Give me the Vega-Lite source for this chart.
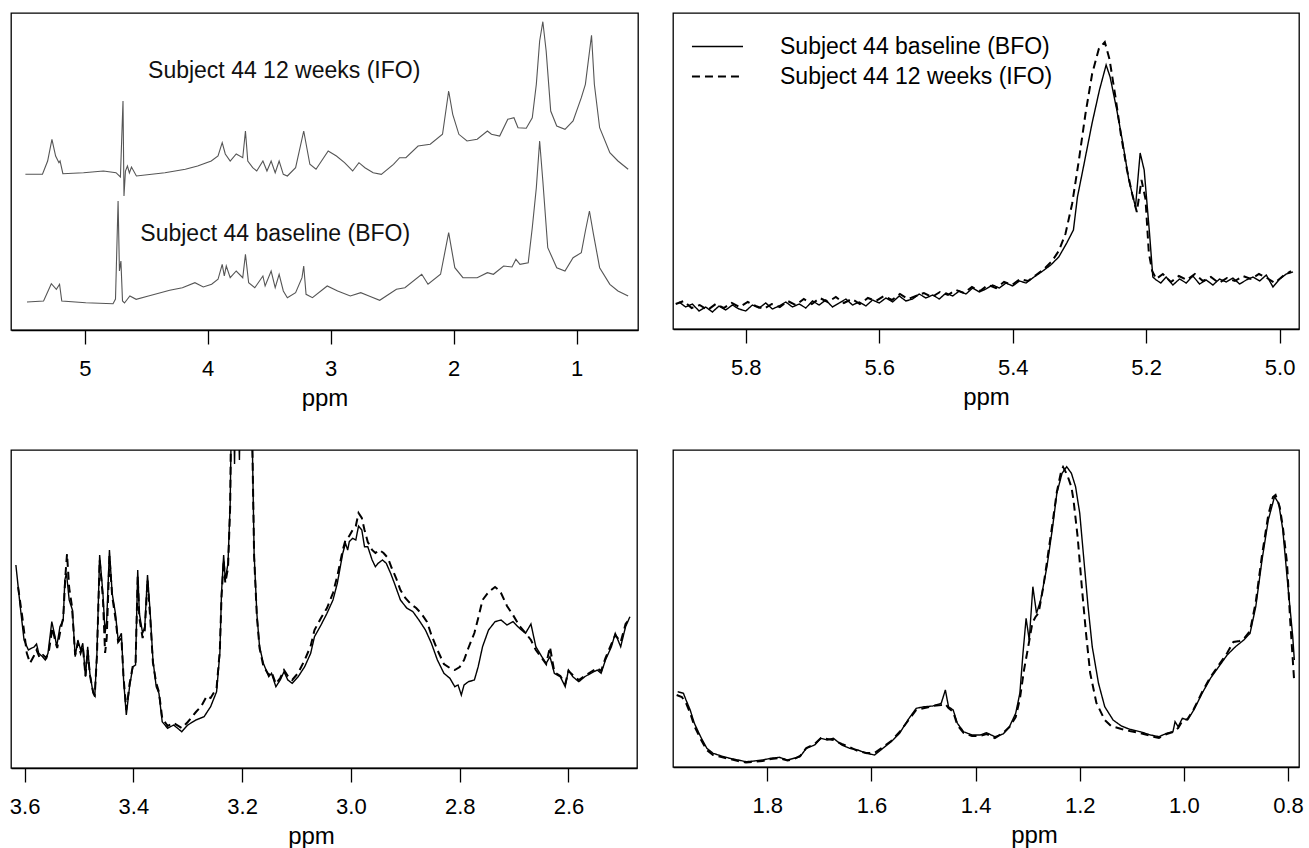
{
"$schema": "https://vega.github.io/schema/vega-lite/v6.json",
"padding": {"left": 8, "top": 12, "right": 4, "bottom": 4},
"bounds": "flush",
"columns": 2,
"spacing": {"row": 120, "column": 35},
"config": {
  "font": "Liberation Sans",
  "view": {"stroke": "black", "strokeWidth": 1.3},
  "axis": {"grid": false, "tickSize": 14, "labelPadding": 14, "labelFontSize": 22, "labelColor": "black", "tickColor": "black", "domainColor": "black", "domainWidth": 1.3, "tickWidth": 1.3, "titleFontSize": 24, "titleFontWeight": "normal", "titleColor": "black", "titlePadding": 7, "labelFlush": false, "labelOverlap": false, "labelFont": "Liberation Sans", "titleFont": "Liberation Sans"},
  "legend": {"labelFont": "Liberation Sans"}
},
"resolve": {"scale": {"x": "independent", "y": "independent", "strokeDash": "independent", "strokeWidth": "independent"}},
"datasets": {
"p1": [
{"x":5.483,"v":155.7,"s":"I"},{"x":5.344,"v":155.7,"s":"I"},{"x":5.302,"v":169,"s":"I"},{"x":5.267,"v":190.7,"s":"I"},{"x":5.237,"v":174,"s":"I"},{"x":5.210,"v":167.3,"s":"I"},{"x":5.201,"v":169,"s":"I"},{"x":5.178,"v":156.3,"s":"I"},{"x":5.010,"v":157.3,"s":"I"},{"x":4.848,"v":159,"s":"I"},{"x":4.746,"v":157.3,"s":"I"},{"x":4.710,"v":153,"s":"I"},{"x":4.689,"v":229,"s":"I"},{"x":4.681,"v":134,"s":"I"},{"x":4.669,"v":159,"s":"I"},{"x":4.653,"v":164,"s":"I"},{"x":4.637,"v":157,"s":"I"},{"x":4.620,"v":163,"s":"I"},{"x":4.580,"v":154,"s":"I"},{"x":4.348,"v":157.3,"s":"I"},{"x":4.182,"v":160.7,"s":"I"},{"x":4.082,"v":164,"s":"I"},{"x":3.971,"v":169,"s":"I"},{"x":3.916,"v":174,"s":"I"},{"x":3.882,"v":187.3,"s":"I"},{"x":3.857,"v":176,"s":"I"},{"x":3.817,"v":169,"s":"I"},{"x":3.768,"v":176,"s":"I"},{"x":3.715,"v":172.3,"s":"I"},{"x":3.693,"v":199,"s":"I"},{"x":3.674,"v":169,"s":"I"},{"x":3.634,"v":162.3,"s":"I"},{"x":3.601,"v":159,"s":"I"},{"x":3.551,"v":169,"s":"I"},{"x":3.518,"v":159,"s":"I"},{"x":3.484,"v":169,"s":"I"},{"x":3.451,"v":157.3,"s":"I"},{"x":3.419,"v":169,"s":"I"},{"x":3.385,"v":155.7,"s":"I"},{"x":3.352,"v":154,"s":"I"},{"x":3.285,"v":162.3,"s":"I"},{"x":3.219,"v":199,"s":"I"},{"x":3.169,"v":165.7,"s":"I"},{"x":3.119,"v":160.7,"s":"I"},{"x":3.020,"v":179,"s":"I"},{"x":2.953,"v":174,"s":"I"},{"x":2.887,"v":167.3,"s":"I"},{"x":2.821,"v":159,"s":"I"},{"x":2.770,"v":167.3,"s":"I"},{"x":2.721,"v":162.3,"s":"I"},{"x":2.654,"v":157.3,"s":"I"},{"x":2.588,"v":155.7,"s":"I"},{"x":2.489,"v":165.7,"s":"I"},{"x":2.439,"v":172.3,"s":"I"},{"x":2.388,"v":172.3,"s":"I"},{"x":2.289,"v":184,"s":"I"},{"x":2.190,"v":185.7,"s":"I"},{"x":2.090,"v":195.7,"s":"I"},{"x":2.040,"v":239,"s":"I"},{"x":2.007,"v":215.7,"s":"I"},{"x":1.957,"v":195.7,"s":"I"},{"x":1.891,"v":189,"s":"I"},{"x":1.808,"v":190.7,"s":"I"},{"x":1.725,"v":199,"s":"I"},{"x":1.692,"v":195.7,"s":"I"},{"x":1.625,"v":194,"s":"I"},{"x":1.559,"v":210.7,"s":"I"},{"x":1.509,"v":212.3,"s":"I"},{"x":1.476,"v":202.3,"s":"I"},{"x":1.409,"v":201.7,"s":"I"},{"x":1.360,"v":212.3,"s":"I"},{"x":1.327,"v":245.7,"s":"I"},{"x":1.300,"v":289,"s":"I"},{"x":1.274,"v":308.3,"s":"I"},{"x":1.247,"v":279,"s":"I"},{"x":1.210,"v":219,"s":"I"},{"x":1.161,"v":204,"s":"I"},{"x":1.094,"v":200.7,"s":"I"},{"x":1.028,"v":209,"s":"I"},{"x":0.961,"v":232.3,"s":"I"},{"x":0.928,"v":245.7,"s":"I"},{"x":0.878,"v":294.7,"s":"I"},{"x":0.855,"v":245.7,"s":"I"},{"x":0.812,"v":202.3,"s":"I"},{"x":0.729,"v":177.3,"s":"I"},{"x":0.663,"v":169,"s":"I"},{"x":0.580,"v":160.7,"s":"I"},
{"x":5.470,"v":28,"s":"B"},{"x":5.335,"v":29,"s":"B"},{"x":5.272,"v":46.3,"s":"B"},{"x":5.231,"v":40.7,"s":"B"},{"x":5.205,"v":45.7,"s":"B"},{"x":5.187,"v":29,"s":"B"},{"x":4.992,"v":27.3,"s":"B"},{"x":4.770,"v":26.3,"s":"B"},{"x":4.750,"v":31,"s":"B"},{"x":4.729,"v":129,"s":"B"},{"x":4.718,"v":59,"s":"B"},{"x":4.706,"v":69,"s":"B"},{"x":4.693,"v":29,"s":"B"},{"x":4.677,"v":27,"s":"B"},{"x":4.633,"v":34,"s":"B"},{"x":4.582,"v":30.7,"s":"B"},{"x":4.482,"v":34,"s":"B"},{"x":4.309,"v":39.7,"s":"B"},{"x":4.206,"v":42.3,"s":"B"},{"x":4.104,"v":47.3,"s":"B"},{"x":4.036,"v":43,"s":"B"},{"x":3.968,"v":45.7,"s":"B"},{"x":3.916,"v":50.7,"s":"B"},{"x":3.882,"v":65.7,"s":"B"},{"x":3.865,"v":54,"s":"B"},{"x":3.849,"v":64,"s":"B"},{"x":3.817,"v":52.3,"s":"B"},{"x":3.768,"v":59,"s":"B"},{"x":3.715,"v":52.3,"s":"B"},{"x":3.693,"v":75.7,"s":"B"},{"x":3.667,"v":47.3,"s":"B"},{"x":3.617,"v":42.3,"s":"B"},{"x":3.551,"v":54,"s":"B"},{"x":3.533,"v":44,"s":"B"},{"x":3.484,"v":59,"s":"B"},{"x":3.451,"v":42.3,"s":"B"},{"x":3.419,"v":55.7,"s":"B"},{"x":3.385,"v":39,"s":"B"},{"x":3.352,"v":32.3,"s":"B"},{"x":3.285,"v":37.3,"s":"B"},{"x":3.233,"v":52.3,"s":"B"},{"x":3.219,"v":64,"s":"B"},{"x":3.200,"v":35.7,"s":"B"},{"x":3.148,"v":32.3,"s":"B"},{"x":3.028,"v":44,"s":"B"},{"x":2.943,"v":39,"s":"B"},{"x":2.840,"v":34,"s":"B"},{"x":2.755,"v":37.3,"s":"B"},{"x":2.688,"v":34,"s":"B"},{"x":2.601,"v":29.7,"s":"B"},{"x":2.465,"v":40.7,"s":"B"},{"x":2.396,"v":42.3,"s":"B"},{"x":2.259,"v":55.7,"s":"B"},{"x":2.208,"v":45.7,"s":"B"},{"x":2.106,"v":55.7,"s":"B"},{"x":2.040,"v":97.3,"s":"B"},{"x":1.990,"v":62.3,"s":"B"},{"x":1.924,"v":52.3,"s":"B"},{"x":1.808,"v":52.3,"s":"B"},{"x":1.725,"v":57.3,"s":"B"},{"x":1.676,"v":55.7,"s":"B"},{"x":1.593,"v":64,"s":"B"},{"x":1.525,"v":63,"s":"B"},{"x":1.493,"v":70.7,"s":"B"},{"x":1.460,"v":65.7,"s":"B"},{"x":1.393,"v":67.3,"s":"B"},{"x":1.360,"v":102.3,"s":"B"},{"x":1.327,"v":142.3,"s":"B"},{"x":1.300,"v":189,"s":"B"},{"x":1.274,"v":149,"s":"B"},{"x":1.234,"v":82.3,"s":"B"},{"x":1.161,"v":62.3,"s":"B"},{"x":1.094,"v":59,"s":"B"},{"x":1.028,"v":72.3,"s":"B"},{"x":0.961,"v":77.3,"s":"B"},{"x":0.928,"v":99,"s":"B"},{"x":0.895,"v":119,"s":"B"},{"x":0.862,"v":95.7,"s":"B"},{"x":0.812,"v":62.3,"s":"B"},{"x":0.729,"v":45.7,"s":"B"},{"x":0.663,"v":39,"s":"B"},{"x":0.580,"v":34,"s":"B"}
],
"t1": [
{"x":3.378,"v":259,"t":"Subject 44 12 weeks (IFO)"},
{"x":3.451,"v":96,"t":"Subject 44 baseline (BFO)"}
],
"p2": [
{"x":5.900,"v":27,"s":"B"},{"x":5.890,"v":22,"s":"B"},{"x":5.880,"v":25,"s":"B"},{"x":5.870,"v":18,"s":"B"},{"x":5.860,"v":22,"s":"B"},{"x":5.850,"v":17,"s":"B"},{"x":5.840,"v":23,"s":"B"},{"x":5.830,"v":19,"s":"B"},{"x":5.820,"v":24,"s":"B"},{"x":5.810,"v":20,"s":"B"},{"x":5.800,"v":18,"s":"B"},{"x":5.790,"v":24,"s":"B"},{"x":5.780,"v":21,"s":"B"},{"x":5.770,"v":26,"s":"B"},{"x":5.760,"v":20,"s":"B"},{"x":5.750,"v":23,"s":"B"},{"x":5.740,"v":27,"s":"B"},{"x":5.730,"v":22,"s":"B"},{"x":5.720,"v":25,"s":"B"},{"x":5.710,"v":21,"s":"B"},{"x":5.700,"v":28,"s":"B"},{"x":5.690,"v":24,"s":"B"},{"x":5.680,"v":29,"s":"B"},{"x":5.670,"v":22,"s":"B"},{"x":5.660,"v":26,"s":"B"},{"x":5.650,"v":30,"s":"B"},{"x":5.640,"v":24,"s":"B"},{"x":5.630,"v":27,"s":"B"},{"x":5.620,"v":23,"s":"B"},{"x":5.610,"v":29,"s":"B"},{"x":5.600,"v":26,"s":"B"},{"x":5.590,"v":31,"s":"B"},{"x":5.580,"v":27,"s":"B"},{"x":5.570,"v":33,"s":"B"},{"x":5.560,"v":28,"s":"B"},{"x":5.550,"v":30,"s":"B"},{"x":5.540,"v":35,"s":"B"},{"x":5.530,"v":31,"s":"B"},{"x":5.520,"v":34,"s":"B"},{"x":5.510,"v":30,"s":"B"},{"x":5.500,"v":36,"s":"B"},{"x":5.490,"v":33,"s":"B"},{"x":5.480,"v":38,"s":"B"},{"x":5.470,"v":35,"s":"B"},{"x":5.460,"v":41,"s":"B"},{"x":5.450,"v":37,"s":"B"},{"x":5.440,"v":40,"s":"B"},{"x":5.430,"v":44,"s":"B"},{"x":5.420,"v":41,"s":"B"},{"x":5.410,"v":46,"s":"B"},{"x":5.400,"v":43,"s":"B"},{"x":5.390,"v":48,"s":"B"},{"x":5.380,"v":46,"s":"B"},{"x":5.368,"v":52,"s":"B"},{"x":5.355,"v":58,"s":"B"},{"x":5.343,"v":64,"s":"B"},{"x":5.331,"v":72,"s":"B"},{"x":5.319,"v":86,"s":"B"},{"x":5.309,"v":99,"s":"B"},{"x":5.303,"v":132,"s":"B"},{"x":5.294,"v":162,"s":"B"},{"x":5.281,"v":206,"s":"B"},{"x":5.270,"v":239,"s":"B"},{"x":5.260,"v":264,"s":"B"},{"x":5.254,"v":252,"s":"B"},{"x":5.244,"v":219,"s":"B"},{"x":5.235,"v":186,"s":"B"},{"x":5.226,"v":149,"s":"B"},{"x":5.216,"v":122,"s":"B"},{"x":5.209,"v":176,"s":"B"},{"x":5.203,"v":159,"s":"B"},{"x":5.195,"v":96,"s":"B"},{"x":5.190,"v":52,"s":"B"},{"x":5.185,"v":49,"s":"B"},{"x":5.178,"v":46,"s":"B"},{"x":5.170,"v":52,"s":"B"},{"x":5.160,"v":44,"s":"B"},{"x":5.150,"v":50,"s":"B"},{"x":5.140,"v":46,"s":"B"},{"x":5.130,"v":53,"s":"B"},{"x":5.120,"v":45,"s":"B"},{"x":5.110,"v":49,"s":"B"},{"x":5.100,"v":44,"s":"B"},{"x":5.090,"v":50,"s":"B"},{"x":5.080,"v":47,"s":"B"},{"x":5.070,"v":51,"s":"B"},{"x":5.060,"v":45,"s":"B"},{"x":5.050,"v":49,"s":"B"},{"x":5.040,"v":52,"s":"B"},{"x":5.030,"v":48,"s":"B"},{"x":5.020,"v":54,"s":"B"},{"x":5.010,"v":42,"s":"B"},{"x":5.000,"v":50,"s":"B"},{"x":4.990,"v":55,"s":"B"},{"x":4.980,"v":57,"s":"B"},
{"x":5.905,"v":25,"s":"I"},{"x":5.893,"v":28,"s":"I"},{"x":5.881,"v":21,"s":"I"},{"x":5.869,"v":24,"s":"I"},{"x":5.857,"v":19,"s":"I"},{"x":5.845,"v":25,"s":"I"},{"x":5.833,"v":21,"s":"I"},{"x":5.821,"v":26,"s":"I"},{"x":5.809,"v":22,"s":"I"},{"x":5.797,"v":27,"s":"I"},{"x":5.785,"v":23,"s":"I"},{"x":5.773,"v":20,"s":"I"},{"x":5.761,"v":25,"s":"I"},{"x":5.749,"v":22,"s":"I"},{"x":5.737,"v":28,"s":"I"},{"x":5.725,"v":24,"s":"I"},{"x":5.713,"v":30,"s":"I"},{"x":5.701,"v":25,"s":"I"},{"x":5.689,"v":31,"s":"I"},{"x":5.677,"v":27,"s":"I"},{"x":5.665,"v":32,"s":"I"},{"x":5.653,"v":26,"s":"I"},{"x":5.641,"v":30,"s":"I"},{"x":5.629,"v":25,"s":"I"},{"x":5.617,"v":31,"s":"I"},{"x":5.605,"v":28,"s":"I"},{"x":5.593,"v":33,"s":"I"},{"x":5.581,"v":29,"s":"I"},{"x":5.569,"v":35,"s":"I"},{"x":5.557,"v":30,"s":"I"},{"x":5.545,"v":33,"s":"I"},{"x":5.533,"v":36,"s":"I"},{"x":5.521,"v":32,"s":"I"},{"x":5.509,"v":37,"s":"I"},{"x":5.497,"v":34,"s":"I"},{"x":5.485,"v":39,"s":"I"},{"x":5.473,"v":36,"s":"I"},{"x":5.461,"v":42,"s":"I"},{"x":5.449,"v":38,"s":"I"},{"x":5.437,"v":44,"s":"I"},{"x":5.425,"v":41,"s":"I"},{"x":5.413,"v":47,"s":"I"},{"x":5.401,"v":44,"s":"I"},{"x":5.389,"v":50,"s":"I"},{"x":5.377,"v":48,"s":"I"},{"x":5.365,"v":54,"s":"I"},{"x":5.353,"v":60,"s":"I"},{"x":5.341,"v":68,"s":"I"},{"x":5.331,"v":78,"s":"I"},{"x":5.321,"v":95,"s":"I"},{"x":5.311,"v":125,"s":"I"},{"x":5.301,"v":168,"s":"I"},{"x":5.291,"v":215,"s":"I"},{"x":5.281,"v":255,"s":"I"},{"x":5.271,"v":280,"s":"I"},{"x":5.262,"v":287,"s":"I"},{"x":5.255,"v":270,"s":"I"},{"x":5.246,"v":232,"s":"I"},{"x":5.238,"v":195,"s":"I"},{"x":5.229,"v":160,"s":"I"},{"x":5.221,"v":135,"s":"I"},{"x":5.214,"v":117,"s":"I"},{"x":5.207,"v":149,"s":"I"},{"x":5.201,"v":130,"s":"I"},{"x":5.196,"v":76,"s":"I"},{"x":5.191,"v":58,"s":"I"},{"x":5.185,"v":50,"s":"I"},{"x":5.175,"v":55,"s":"I"},{"x":5.163,"v":47,"s":"I"},{"x":5.151,"v":53,"s":"I"},{"x":5.139,"v":49,"s":"I"},{"x":5.127,"v":55,"s":"I"},{"x":5.115,"v":48,"s":"I"},{"x":5.103,"v":52,"s":"I"},{"x":5.091,"v":46,"s":"I"},{"x":5.079,"v":51,"s":"I"},{"x":5.067,"v":48,"s":"I"},{"x":5.055,"v":53,"s":"I"},{"x":5.043,"v":50,"s":"I"},{"x":5.031,"v":55,"s":"I"},{"x":5.019,"v":51,"s":"I"},{"x":5.007,"v":46,"s":"I"},{"x":4.995,"v":53,"s":"I"},{"x":4.983,"v":58,"s":"I"}
],
"p3": [
{"x":3.616,"v":203,"s":"B"},{"x":3.608,"v":161.3,"s":"B"},{"x":3.601,"v":128,"s":"B"},{"x":3.593,"v":118,"s":"B"},{"x":3.582,"v":121.3,"s":"B"},{"x":3.578,"v":124,"s":"B"},{"x":3.574,"v":114.7,"s":"B"},{"x":3.567,"v":111.3,"s":"B"},{"x":3.562,"v":108,"s":"B"},{"x":3.557,"v":114.7,"s":"B"},{"x":3.550,"v":146.3,"s":"B"},{"x":3.544,"v":131.3,"s":"B"},{"x":3.541,"v":121.3,"s":"B"},{"x":3.535,"v":141.3,"s":"B"},{"x":3.529,"v":148,"s":"B"},{"x":3.526,"v":188,"s":"B"},{"x":3.523,"v":194.7,"s":"B"},{"x":3.518,"v":168,"s":"B"},{"x":3.512,"v":158,"s":"B"},{"x":3.507,"v":111.3,"s":"B"},{"x":3.502,"v":128,"s":"B"},{"x":3.497,"v":118,"s":"B"},{"x":3.493,"v":124.7,"s":"B"},{"x":3.488,"v":91.3,"s":"B"},{"x":3.484,"v":121.3,"s":"B"},{"x":3.480,"v":94.7,"s":"B"},{"x":3.474,"v":74.7,"s":"B"},{"x":3.471,"v":71.3,"s":"B"},{"x":3.467,"v":114.7,"s":"B"},{"x":3.462,"v":213,"s":"B"},{"x":3.456,"v":174.7,"s":"B"},{"x":3.452,"v":134.7,"s":"B"},{"x":3.449,"v":148,"s":"B"},{"x":3.444,"v":218,"s":"B"},{"x":3.439,"v":174.7,"s":"B"},{"x":3.433,"v":154.7,"s":"B"},{"x":3.428,"v":128,"s":"B"},{"x":3.422,"v":134.7,"s":"B"},{"x":3.418,"v":88,"s":"B"},{"x":3.413,"v":53,"s":"B"},{"x":3.407,"v":81.3,"s":"B"},{"x":3.401,"v":101.3,"s":"B"},{"x":3.396,"v":103,"s":"B"},{"x":3.392,"v":198,"s":"B"},{"x":3.389,"v":154.7,"s":"B"},{"x":3.383,"v":134.7,"s":"B"},{"x":3.379,"v":141.3,"s":"B"},{"x":3.374,"v":193,"s":"B"},{"x":3.369,"v":154.7,"s":"B"},{"x":3.364,"v":108,"s":"B"},{"x":3.358,"v":81.3,"s":"B"},{"x":3.353,"v":74.7,"s":"B"},{"x":3.347,"v":46.3,"s":"B"},{"x":3.337,"v":39.7,"s":"B"},{"x":3.326,"v":43,"s":"B"},{"x":3.311,"v":36.3,"s":"B"},{"x":3.300,"v":43,"s":"B"},{"x":3.285,"v":48,"s":"B"},{"x":3.270,"v":51.3,"s":"B"},{"x":3.258,"v":61.3,"s":"B"},{"x":3.247,"v":76.3,"s":"B"},{"x":3.241,"v":114.7,"s":"B"},{"x":3.238,"v":174.7,"s":"B"},{"x":3.234,"v":213,"s":"B"},{"x":3.231,"v":188,"s":"B"},{"x":3.226,"v":204.7,"s":"B"},{"x":3.222,"v":264.7,"s":"B"},{"x":3.218,"v":420,"s":"B"},{"x":3.214,"v":304,"s":"B"},{"x":3.210,"v":420,"s":"B"},{"x":3.205,"v":308,"s":"B"},{"x":3.201,"v":420,"s":"B"},{"x":3.185,"v":420,"s":"B"},{"x":3.181,"v":314.7,"s":"B"},{"x":3.178,"v":214.7,"s":"B"},{"x":3.173,"v":154.7,"s":"B"},{"x":3.168,"v":121.3,"s":"B"},{"x":3.161,"v":104.7,"s":"B"},{"x":3.151,"v":91.3,"s":"B"},{"x":3.146,"v":94.7,"s":"B"},{"x":3.138,"v":81.3,"s":"B"},{"x":3.130,"v":88,"s":"B"},{"x":3.123,"v":96.3,"s":"B"},{"x":3.116,"v":88,"s":"B"},{"x":3.108,"v":84.7,"s":"B"},{"x":3.097,"v":91.3,"s":"B"},{"x":3.085,"v":101.3,"s":"B"},{"x":3.074,"v":114.7,"s":"B"},{"x":3.067,"v":131.3,"s":"B"},{"x":3.055,"v":143,"s":"B"},{"x":3.044,"v":154.7,"s":"B"},{"x":3.033,"v":168,"s":"B"},{"x":3.025,"v":184.7,"s":"B"},{"x":3.015,"v":214.7,"s":"B"},{"x":3.010,"v":224.7,"s":"B"},{"x":3.006,"v":218,"s":"B"},{"x":3.003,"v":226.3,"s":"B"},{"x":2.997,"v":229.7,"s":"B"},{"x":2.991,"v":228,"s":"B"},{"x":2.986,"v":242,"s":"B"},{"x":2.980,"v":238,"s":"B"},{"x":2.975,"v":221.3,"s":"B"},{"x":2.969,"v":221.3,"s":"B"},{"x":2.961,"v":208,"s":"B"},{"x":2.955,"v":201.3,"s":"B"},{"x":2.950,"v":204.7,"s":"B"},{"x":2.942,"v":208,"s":"B"},{"x":2.935,"v":204.7,"s":"B"},{"x":2.927,"v":194.7,"s":"B"},{"x":2.920,"v":184.7,"s":"B"},{"x":2.909,"v":168,"s":"B"},{"x":2.897,"v":159.7,"s":"B"},{"x":2.886,"v":156.3,"s":"B"},{"x":2.875,"v":148,"s":"B"},{"x":2.863,"v":138,"s":"B"},{"x":2.852,"v":124.7,"s":"B"},{"x":2.841,"v":108,"s":"B"},{"x":2.829,"v":94.7,"s":"B"},{"x":2.818,"v":89.7,"s":"B"},{"x":2.809,"v":81.3,"s":"B"},{"x":2.803,"v":83,"s":"B"},{"x":2.797,"v":73,"s":"B"},{"x":2.792,"v":83,"s":"B"},{"x":2.784,"v":86.3,"s":"B"},{"x":2.773,"v":88,"s":"B"},{"x":2.766,"v":101.3,"s":"B"},{"x":2.758,"v":121.3,"s":"B"},{"x":2.747,"v":138,"s":"B"},{"x":2.735,"v":146.3,"s":"B"},{"x":2.724,"v":148,"s":"B"},{"x":2.713,"v":143,"s":"B"},{"x":2.702,"v":146.3,"s":"B"},{"x":2.690,"v":139.7,"s":"B"},{"x":2.679,"v":134.7,"s":"B"},{"x":2.669,"v":144,"s":"B"},{"x":2.660,"v":121.3,"s":"B"},{"x":2.649,"v":111.3,"s":"B"},{"x":2.641,"v":104.7,"s":"B"},{"x":2.634,"v":111.3,"s":"B"},{"x":2.626,"v":94.7,"s":"B"},{"x":2.615,"v":91.3,"s":"B"},{"x":2.606,"v":81.3,"s":"B"},{"x":2.600,"v":98,"s":"B"},{"x":2.592,"v":91.3,"s":"B"},{"x":2.581,"v":86.3,"s":"B"},{"x":2.570,"v":91.3,"s":"B"},{"x":2.559,"v":94.7,"s":"B"},{"x":2.547,"v":98,"s":"B"},{"x":2.540,"v":94.7,"s":"B"},{"x":2.532,"v":108,"s":"B"},{"x":2.521,"v":121.3,"s":"B"},{"x":2.514,"v":134.7,"s":"B"},{"x":2.504,"v":121.3,"s":"B"},{"x":2.495,"v":141.3,"s":"B"},{"x":2.487,"v":151.3,"s":"B"},
{"x":3.612,"v":181,"s":"I"},{"x":3.604,"v":150,"s":"I"},{"x":3.596,"v":115,"s":"I"},{"x":3.590,"v":105,"s":"I"},{"x":3.583,"v":112,"s":"I"},{"x":3.578,"v":118,"s":"I"},{"x":3.572,"v":110,"s":"I"},{"x":3.566,"v":113,"s":"I"},{"x":3.560,"v":110,"s":"I"},{"x":3.555,"v":118,"s":"I"},{"x":3.549,"v":140,"s":"I"},{"x":3.544,"v":128,"s":"I"},{"x":3.540,"v":120,"s":"I"},{"x":3.534,"v":138,"s":"I"},{"x":3.529,"v":150,"s":"I"},{"x":3.525,"v":192,"s":"I"},{"x":3.522,"v":214,"s":"I"},{"x":3.518,"v":180,"s":"I"},{"x":3.513,"v":162,"s":"I"},{"x":3.507,"v":113,"s":"I"},{"x":3.502,"v":125,"s":"I"},{"x":3.497,"v":115,"s":"I"},{"x":3.493,"v":122,"s":"I"},{"x":3.488,"v":92,"s":"I"},{"x":3.484,"v":118,"s":"I"},{"x":3.480,"v":93,"s":"I"},{"x":3.474,"v":76,"s":"I"},{"x":3.471,"v":73,"s":"I"},{"x":3.467,"v":112,"s":"I"},{"x":3.462,"v":208,"s":"I"},{"x":3.456,"v":170,"s":"I"},{"x":3.452,"v":115,"s":"I"},{"x":3.449,"v":130,"s":"I"},{"x":3.444,"v":212,"s":"I"},{"x":3.439,"v":172,"s":"I"},{"x":3.433,"v":150,"s":"I"},{"x":3.428,"v":126,"s":"I"},{"x":3.422,"v":130,"s":"I"},{"x":3.418,"v":90,"s":"I"},{"x":3.413,"v":58,"s":"I"},{"x":3.407,"v":84,"s":"I"},{"x":3.401,"v":102,"s":"I"},{"x":3.396,"v":104,"s":"I"},{"x":3.392,"v":192,"s":"I"},{"x":3.389,"v":150,"s":"I"},{"x":3.383,"v":130,"s":"I"},{"x":3.379,"v":138,"s":"I"},{"x":3.374,"v":188,"s":"I"},{"x":3.369,"v":150,"s":"I"},{"x":3.364,"v":105,"s":"I"},{"x":3.358,"v":85,"s":"I"},{"x":3.353,"v":76,"s":"I"},{"x":3.347,"v":50,"s":"I"},{"x":3.337,"v":42,"s":"I"},{"x":3.326,"v":45,"s":"I"},{"x":3.311,"v":40,"s":"I"},{"x":3.300,"v":46,"s":"I"},{"x":3.285,"v":56,"s":"I"},{"x":3.275,"v":62,"s":"I"},{"x":3.265,"v":72,"s":"I"},{"x":3.258,"v":70,"s":"I"},{"x":3.247,"v":80,"s":"I"},{"x":3.241,"v":118,"s":"I"},{"x":3.238,"v":170,"s":"I"},{"x":3.234,"v":208,"s":"I"},{"x":3.231,"v":185,"s":"I"},{"x":3.226,"v":200,"s":"I"},{"x":3.222,"v":262,"s":"I"},{"x":3.219,"v":420,"s":"I"},{"x":3.185,"v":420,"s":"I"},{"x":3.181,"v":314,"s":"I"},{"x":3.178,"v":212,"s":"I"},{"x":3.173,"v":152,"s":"I"},{"x":3.168,"v":120,"s":"I"},{"x":3.161,"v":102,"s":"I"},{"x":3.151,"v":93,"s":"I"},{"x":3.146,"v":96,"s":"I"},{"x":3.138,"v":84,"s":"I"},{"x":3.130,"v":90,"s":"I"},{"x":3.123,"v":98,"s":"I"},{"x":3.116,"v":92,"s":"I"},{"x":3.108,"v":88,"s":"I"},{"x":3.097,"v":95,"s":"I"},{"x":3.085,"v":108,"s":"I"},{"x":3.074,"v":122,"s":"I"},{"x":3.067,"v":138,"s":"I"},{"x":3.055,"v":150,"s":"I"},{"x":3.044,"v":160,"s":"I"},{"x":3.033,"v":175,"s":"I"},{"x":3.025,"v":192,"s":"I"},{"x":3.015,"v":218,"s":"I"},{"x":3.010,"v":228,"s":"I"},{"x":3.003,"v":232,"s":"I"},{"x":2.997,"v":238,"s":"I"},{"x":2.991,"v":242,"s":"I"},{"x":2.986,"v":255,"s":"I"},{"x":2.980,"v":250,"s":"I"},{"x":2.975,"v":238,"s":"I"},{"x":2.969,"v":226,"s":"I"},{"x":2.961,"v":218,"s":"I"},{"x":2.955,"v":215,"s":"I"},{"x":2.948,"v":218,"s":"I"},{"x":2.940,"v":215,"s":"I"},{"x":2.932,"v":210,"s":"I"},{"x":2.925,"v":200,"s":"I"},{"x":2.917,"v":190,"s":"I"},{"x":2.909,"v":178,"s":"I"},{"x":2.900,"v":170,"s":"I"},{"x":2.890,"v":164,"s":"I"},{"x":2.880,"v":160,"s":"I"},{"x":2.870,"v":154,"s":"I"},{"x":2.860,"v":146,"s":"I"},{"x":2.852,"v":133,"s":"I"},{"x":2.841,"v":118,"s":"I"},{"x":2.829,"v":104,"s":"I"},{"x":2.818,"v":100,"s":"I"},{"x":2.809,"v":98,"s":"I"},{"x":2.800,"v":101,"s":"I"},{"x":2.792,"v":108,"s":"I"},{"x":2.784,"v":120,"s":"I"},{"x":2.773,"v":135,"s":"I"},{"x":2.765,"v":152,"s":"I"},{"x":2.758,"v":168,"s":"I"},{"x":2.747,"v":176,"s":"I"},{"x":2.735,"v":181,"s":"I"},{"x":2.728,"v":178,"s":"I"},{"x":2.724,"v":175,"s":"I"},{"x":2.713,"v":162,"s":"I"},{"x":2.702,"v":153,"s":"I"},{"x":2.690,"v":142,"s":"I"},{"x":2.679,"v":135,"s":"I"},{"x":2.669,"v":128,"s":"I"},{"x":2.660,"v":118,"s":"I"},{"x":2.649,"v":110,"s":"I"},{"x":2.641,"v":104,"s":"I"},{"x":2.634,"v":121,"s":"I"},{"x":2.626,"v":96,"s":"I"},{"x":2.615,"v":92,"s":"I"},{"x":2.606,"v":84,"s":"I"},{"x":2.600,"v":97,"s":"I"},{"x":2.592,"v":93,"s":"I"},{"x":2.581,"v":88,"s":"I"},{"x":2.570,"v":92,"s":"I"},{"x":2.559,"v":96,"s":"I"},{"x":2.547,"v":100,"s":"I"},{"x":2.540,"v":97,"s":"I"},{"x":2.532,"v":110,"s":"I"},{"x":2.521,"v":124,"s":"I"},{"x":2.514,"v":133,"s":"I"},{"x":2.504,"v":126,"s":"I"},{"x":2.495,"v":144,"s":"I"},{"x":2.487,"v":150,"s":"I"}
],
"p4": [
{"x":1.972,"v":75.3,"s":"B"},{"x":1.961,"v":73.7,"s":"B"},{"x":1.956,"v":67,"s":"B"},{"x":1.948,"v":57,"s":"B"},{"x":1.940,"v":43.7,"s":"B"},{"x":1.928,"v":30.3,"s":"B"},{"x":1.916,"v":18.7,"s":"B"},{"x":1.904,"v":13.7,"s":"B"},{"x":1.888,"v":11,"s":"B"},{"x":1.872,"v":8.7,"s":"B"},{"x":1.856,"v":7,"s":"B"},{"x":1.841,"v":5.3,"s":"B"},{"x":1.825,"v":6,"s":"B"},{"x":1.809,"v":7,"s":"B"},{"x":1.793,"v":8.7,"s":"B"},{"x":1.777,"v":9.7,"s":"B"},{"x":1.761,"v":7,"s":"B"},{"x":1.749,"v":8.7,"s":"B"},{"x":1.737,"v":10.3,"s":"B"},{"x":1.725,"v":18.7,"s":"B"},{"x":1.709,"v":22,"s":"B"},{"x":1.697,"v":28.7,"s":"B"},{"x":1.685,"v":27,"s":"B"},{"x":1.673,"v":28.7,"s":"B"},{"x":1.657,"v":22,"s":"B"},{"x":1.642,"v":18.7,"s":"B"},{"x":1.626,"v":17,"s":"B"},{"x":1.610,"v":13.7,"s":"B"},{"x":1.594,"v":12,"s":"B"},{"x":1.578,"v":18.7,"s":"B"},{"x":1.562,"v":25.3,"s":"B"},{"x":1.546,"v":33.7,"s":"B"},{"x":1.530,"v":47,"s":"B"},{"x":1.514,"v":58.7,"s":"B"},{"x":1.498,"v":60.3,"s":"B"},{"x":1.482,"v":61,"s":"B"},{"x":1.466,"v":63.7,"s":"B"},{"x":1.458,"v":77,"s":"B"},{"x":1.452,"v":60.3,"s":"B"},{"x":1.443,"v":57,"s":"B"},{"x":1.435,"v":43.7,"s":"B"},{"x":1.423,"v":35.3,"s":"B"},{"x":1.407,"v":32,"s":"B"},{"x":1.391,"v":32,"s":"B"},{"x":1.379,"v":34.3,"s":"B"},{"x":1.363,"v":30.3,"s":"B"},{"x":1.347,"v":33,"s":"B"},{"x":1.335,"v":40.3,"s":"B"},{"x":1.323,"v":53.7,"s":"B"},{"x":1.315,"v":73.7,"s":"B"},{"x":1.309,"v":113.7,"s":"B"},{"x":1.303,"v":148.7,"s":"B"},{"x":1.297,"v":127,"s":"B"},{"x":1.290,"v":180.3,"s":"B"},{"x":1.283,"v":153.7,"s":"B"},{"x":1.275,"v":167,"s":"B"},{"x":1.263,"v":200.3,"s":"B"},{"x":1.252,"v":240.3,"s":"B"},{"x":1.244,"v":273.7,"s":"B"},{"x":1.234,"v":293.7,"s":"B"},{"x":1.225,"v":300.3,"s":"B"},{"x":1.216,"v":293.7,"s":"B"},{"x":1.208,"v":280.3,"s":"B"},{"x":1.200,"v":253.7,"s":"B"},{"x":1.192,"v":207,"s":"B"},{"x":1.184,"v":160.3,"s":"B"},{"x":1.176,"v":120.3,"s":"B"},{"x":1.164,"v":83.7,"s":"B"},{"x":1.152,"v":60.3,"s":"B"},{"x":1.136,"v":47,"s":"B"},{"x":1.120,"v":41,"s":"B"},{"x":1.104,"v":37.7,"s":"B"},{"x":1.084,"v":35.3,"s":"B"},{"x":1.064,"v":32,"s":"B"},{"x":1.048,"v":30.3,"s":"B"},{"x":1.033,"v":33.7,"s":"B"},{"x":1.021,"v":35.3,"s":"B"},{"x":1.017,"v":45.3,"s":"B"},{"x":1.011,"v":40.3,"s":"B"},{"x":1.003,"v":48.7,"s":"B"},{"x":0.993,"v":47,"s":"B"},{"x":0.981,"v":57,"s":"B"},{"x":0.965,"v":73.7,"s":"B"},{"x":0.949,"v":88.7,"s":"B"},{"x":0.933,"v":100.3,"s":"B"},{"x":0.917,"v":112,"s":"B"},{"x":0.901,"v":120.3,"s":"B"},{"x":0.885,"v":127,"s":"B"},{"x":0.873,"v":133.7,"s":"B"},{"x":0.862,"v":160.3,"s":"B"},{"x":0.850,"v":207,"s":"B"},{"x":0.838,"v":247,"s":"B"},{"x":0.826,"v":270.3,"s":"B"},{"x":0.818,"v":263.7,"s":"B"},{"x":0.810,"v":237,"s":"B"},{"x":0.802,"v":190.3,"s":"B"},{"x":0.791,"v":130.3,"s":"B"},{"x":0.788,"v":107,"s":"B"},
{"x":1.974,"v":72,"s":"I"},{"x":1.964,"v":70,"s":"I"},{"x":1.956,"v":64,"s":"I"},{"x":1.948,"v":54,"s":"I"},{"x":1.940,"v":41,"s":"I"},{"x":1.928,"v":28,"s":"I"},{"x":1.916,"v":17,"s":"I"},{"x":1.904,"v":12,"s":"I"},{"x":1.888,"v":10,"s":"I"},{"x":1.872,"v":8,"s":"I"},{"x":1.856,"v":6,"s":"I"},{"x":1.841,"v":4.5,"s":"I"},{"x":1.809,"v":6,"s":"I"},{"x":1.793,"v":8,"s":"I"},{"x":1.777,"v":9,"s":"I"},{"x":1.761,"v":6.5,"s":"I"},{"x":1.749,"v":8,"s":"I"},{"x":1.737,"v":11,"s":"I"},{"x":1.725,"v":19,"s":"I"},{"x":1.709,"v":23,"s":"I"},{"x":1.697,"v":29,"s":"I"},{"x":1.685,"v":28,"s":"I"},{"x":1.673,"v":27,"s":"I"},{"x":1.657,"v":23,"s":"I"},{"x":1.642,"v":20,"s":"I"},{"x":1.626,"v":16,"s":"I"},{"x":1.610,"v":14,"s":"I"},{"x":1.594,"v":14,"s":"I"},{"x":1.578,"v":20,"s":"I"},{"x":1.562,"v":26,"s":"I"},{"x":1.546,"v":35,"s":"I"},{"x":1.530,"v":46,"s":"I"},{"x":1.514,"v":57,"s":"I"},{"x":1.498,"v":59,"s":"I"},{"x":1.482,"v":61,"s":"I"},{"x":1.466,"v":62,"s":"I"},{"x":1.458,"v":63,"s":"I"},{"x":1.452,"v":59,"s":"I"},{"x":1.443,"v":55,"s":"I"},{"x":1.435,"v":42,"s":"I"},{"x":1.423,"v":34,"s":"I"},{"x":1.407,"v":31,"s":"I"},{"x":1.391,"v":31,"s":"I"},{"x":1.379,"v":33,"s":"I"},{"x":1.363,"v":29,"s":"I"},{"x":1.347,"v":34,"s":"I"},{"x":1.335,"v":40,"s":"I"},{"x":1.323,"v":50,"s":"I"},{"x":1.315,"v":68,"s":"I"},{"x":1.307,"v":97,"s":"I"},{"x":1.299,"v":120,"s":"I"},{"x":1.291,"v":144,"s":"I"},{"x":1.285,"v":150,"s":"I"},{"x":1.279,"v":154,"s":"I"},{"x":1.270,"v":180,"s":"I"},{"x":1.263,"v":205,"s":"I"},{"x":1.252,"v":245,"s":"I"},{"x":1.244,"v":275,"s":"I"},{"x":1.236,"v":295,"s":"I"},{"x":1.232,"v":300,"s":"I"},{"x":1.224,"v":292,"s":"I"},{"x":1.216,"v":280,"s":"I"},{"x":1.212,"v":267,"s":"I"},{"x":1.204,"v":230,"s":"I"},{"x":1.196,"v":180,"s":"I"},{"x":1.188,"v":134,"s":"I"},{"x":1.180,"v":94,"s":"I"},{"x":1.168,"v":64,"s":"I"},{"x":1.152,"v":47,"s":"I"},{"x":1.140,"v":41,"s":"I"},{"x":1.120,"v":38,"s":"I"},{"x":1.104,"v":36,"s":"I"},{"x":1.084,"v":34,"s":"I"},{"x":1.064,"v":31,"s":"I"},{"x":1.048,"v":29,"s":"I"},{"x":1.033,"v":33,"s":"I"},{"x":1.021,"v":35,"s":"I"},{"x":1.011,"v":39,"s":"I"},{"x":1.003,"v":46,"s":"I"},{"x":0.993,"v":48,"s":"I"},{"x":0.981,"v":58,"s":"I"},{"x":0.965,"v":75,"s":"I"},{"x":0.949,"v":90,"s":"I"},{"x":0.933,"v":102,"s":"I"},{"x":0.917,"v":114,"s":"I"},{"x":0.905,"v":125,"s":"I"},{"x":0.893,"v":126,"s":"I"},{"x":0.885,"v":128,"s":"I"},{"x":0.873,"v":136,"s":"I"},{"x":0.862,"v":165,"s":"I"},{"x":0.850,"v":212,"s":"I"},{"x":0.838,"v":252,"s":"I"},{"x":0.829,"v":270,"s":"I"},{"x":0.824,"v":272,"s":"I"},{"x":0.816,"v":260,"s":"I"},{"x":0.810,"v":240,"s":"I"},{"x":0.802,"v":204,"s":"I"},{"x":0.796,"v":147,"s":"I"},{"x":0.788,"v":84,"s":"I"}
]
},
"concat": [
{
  "width": 627, "height": 317,
  "layer": [
    {"data": {"name": "p1"}, "mark": {"type": "line", "color": "#555555", "strokeWidth": 1.1},
     "encoding": {
       "x": {"field": "x", "type": "quantitative", "scale": {"domain": [5.6, 0.5], "nice": false, "zero": false}, "axis": {"values": [5,4,3,2,1], "format": "d", "title": "ppm"}},
       "y": {"field": "v", "type": "quantitative", "scale": {"domain": [0, 317], "nice": false, "zero": false}, "axis": null},
       "detail": {"field": "s", "type": "nominal"}
     }},
    {"data": {"name": "t1"}, "mark": {"type": "text", "fontSize": 23, "color": "#111111", "font": "Liberation Sans"},
     "encoding": {
       "x": {"field": "x", "type": "quantitative"},
       "y": {"field": "v", "type": "quantitative"},
       "text": {"field": "t", "type": "nominal"}
     }}
  ]
},
{
  "width": 626, "height": 316,
  "data": {"name": "p2"},
  "mark": {"type": "line", "color": "black"},
  "encoding": {
    "x": {"field": "x", "type": "quantitative", "scale": {"domain": [5.909, 4.971], "nice": false, "zero": false}, "axis": {"values": [5.8,5.6,5.4,5.2,5.0], "format": ".1f", "title": "ppm"}},
    "y": {"field": "v", "type": "quantitative", "scale": {"domain": [0, 316], "nice": false, "zero": false}, "axis": null},
    "strokeDash": {"field": "s", "type": "nominal", "scale": {"domain": ["B","I"], "range": [[1,0],[8,5]]},
      "legend": {"orient": "none", "legendX": 33, "legendY": 22, "title": null, "labelExpr": "datum.value == 'B' ? 'Subject 44 baseline (BFO)' : 'Subject 44 12 weeks (IFO)'", "symbolType": "M-4,0H4", "symbolSize": 163, "symbolStrokeWidth": 1.5, "symbolStrokeColor": "black", "labelFontSize": 23, "labelOffset": 51, "rowPadding": 6, "labelColor": "black", "padding": 0, "labelLimit": 400}},
    "strokeWidth": {"field": "s", "type": "ordinal", "scale": {"domain": ["B","I"], "range": [1.4, 2]}, "legend": null}
  }
},
{
  "width": 626, "height": 318,
  "data": {"name": "p3"},
  "mark": {"type": "line", "color": "black", "clip": true},
  "encoding": {
    "x": {"field": "x", "type": "quantitative", "scale": {"domain": [3.625, 2.474], "nice": false, "zero": false}, "axis": {"values": [3.6,3.4,3.2,3.0,2.8,2.6], "format": ".1f", "title": "ppm", "titleX": 300}},
    "y": {"field": "v", "type": "quantitative", "scale": {"domain": [0, 318], "nice": false, "zero": false}, "axis": null},
    "strokeDash": {"field": "s", "type": "nominal", "scale": {"domain": ["B","I"], "range": [[1,0],[8,5]]}, "legend": null},
    "strokeWidth": {"field": "s", "type": "ordinal", "scale": {"domain": ["B","I"], "range": [1.4, 2]}, "legend": null}
  }
},
{
  "width": 626, "height": 317,
  "data": {"name": "p4"},
  "mark": {"type": "line", "color": "black", "clip": true},
  "encoding": {
    "x": {"field": "x", "type": "quantitative", "scale": {"domain": [1.981, 0.779], "nice": false, "zero": false}, "axis": {"values": [1.8,1.6,1.4,1.2,1.0,0.8], "format": ".1f", "title": "ppm", "titleX": 361}},
    "y": {"field": "v", "type": "quantitative", "scale": {"domain": [0, 317], "nice": false, "zero": false}, "axis": null},
    "strokeDash": {"field": "s", "type": "nominal", "scale": {"domain": ["B","I"], "range": [[1,0],[8,5]]}, "legend": null},
    "strokeWidth": {"field": "s", "type": "ordinal", "scale": {"domain": ["B","I"], "range": [1.4, 2]}, "legend": null}
  }
}
]
}
